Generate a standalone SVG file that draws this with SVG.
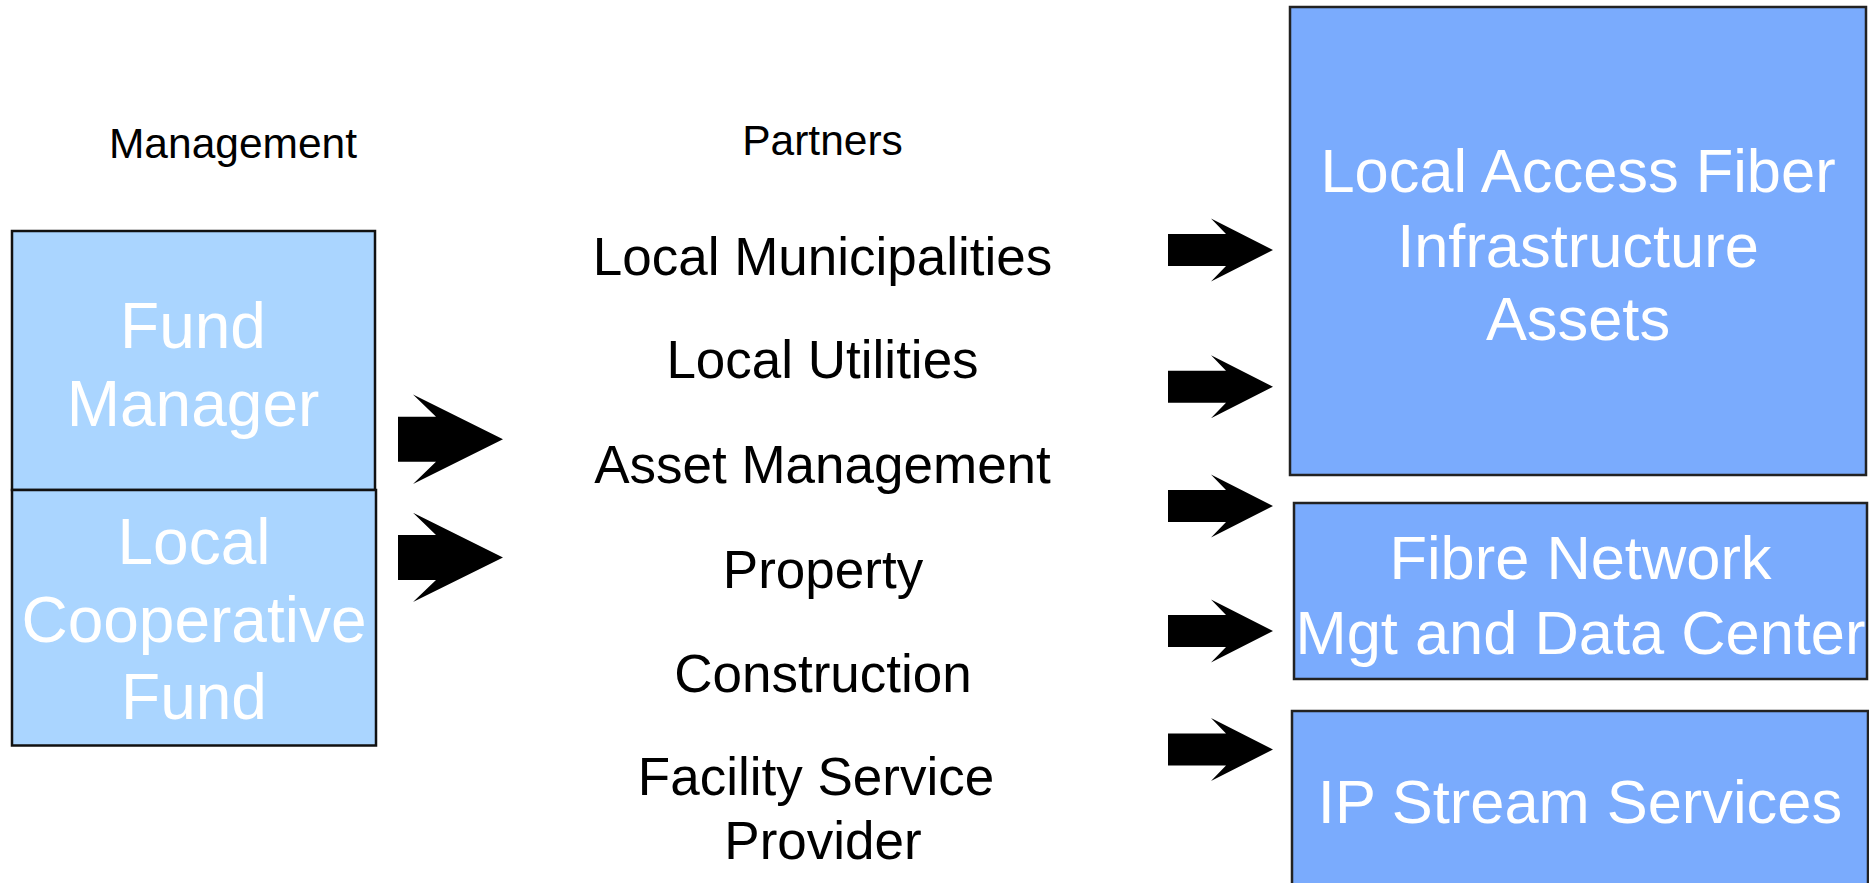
<svg xmlns="http://www.w3.org/2000/svg" width="1869" height="883" viewBox="0 0 1869 883">
<style>
text{font-family:"Liberation Sans",Arial,sans-serif;text-anchor:middle}
.head{font-size:42.5px;fill:#000}
.partner{font-size:53px;fill:#000}
.lbox{fill:#AAD5FF;stroke:#111;stroke-width:2.5}
.rbox{fill:#7AABFD;stroke:#222;stroke-width:2.5}
.ltxt{font-size:64px;fill:#fff}
.rtxt{font-size:61.4px;fill:#fff}
.arrow{fill:#000}
</style>
<defs>
<polygon id="arrowL" points="0,-22.5 38,-22.5 15,-44.7 105,0 15,44.7 38,22.5 0,22.5"/>
<polygon id="arrowR" points="0,-16 58,-16 43,-31.5 105,0 43,31.5 58,16 0,16"/>
</defs>
<rect width="1869" height="883" fill="#fff"/>
<g id="labels">
<text class="head" x="233" y="158">Management</text>
<text class="head" x="822.5" y="155">Partners</text>
</g>
<g id="partners">
<text class="partner" x="822.5" y="275">Local Municipalities</text>
<text class="partner" x="822.5" y="378">Local Utilities</text>
<text class="partner" x="822.5" y="483">Asset Management</text>
<text class="partner" x="823" y="588">Property</text>
<text class="partner" x="823" y="692">Construction</text>
<text class="partner" x="816" y="795">Facility Service</text>
<text class="partner" x="823" y="859">Provider</text>
</g>
<g id="fund-manager">
<rect class="lbox" x="12" y="231" width="363" height="259"/>
<text class="ltxt" x="193" y="348">Fund</text>
<text class="ltxt" x="193" y="425.5">Manager</text>
</g>
<g id="local-cooperative-fund">
<rect class="lbox" x="12" y="490" width="364" height="255.5"/>
<text class="ltxt" x="194" y="564">Local</text>
<text class="ltxt" x="194" y="641.5">Cooperative</text>
<text class="ltxt" x="194" y="719">Fund</text>
</g>
<g id="local-access-fiber">
<rect class="rbox" x="1290" y="7" width="576" height="468"/>
<text class="rtxt" x="1578" y="192">Local Access Fiber</text>
<text class="rtxt" x="1578" y="266.5">Infrastructure</text>
<text class="rtxt" x="1578" y="339.5">Assets</text>
</g>
<g id="fibre-network">
<rect class="rbox" x="1294" y="503" width="573" height="176"/>
<text class="rtxt" x="1580.5" y="579">Fibre Network</text>
<text class="rtxt" x="1580.5" y="654">Mgt and Data Center</text>
</g>
<g id="ip-stream">
<rect class="rbox" x="1292" y="711" width="576" height="200"/>
<text class="rtxt" x="1580" y="823">IP Stream Services</text>
</g>
<g id="connectors" class="arrow">
<use href="#arrowL" x="398" y="439.3"/>
<use href="#arrowL" x="398" y="557.4"/>
<use href="#arrowR" x="1168" y="250"/>
<use href="#arrowR" x="1168" y="386.7"/>
<use href="#arrowR" x="1168" y="506"/>
<use href="#arrowR" x="1168" y="631"/>
<use href="#arrowR" x="1168" y="749.5"/>
</g>
</svg>
